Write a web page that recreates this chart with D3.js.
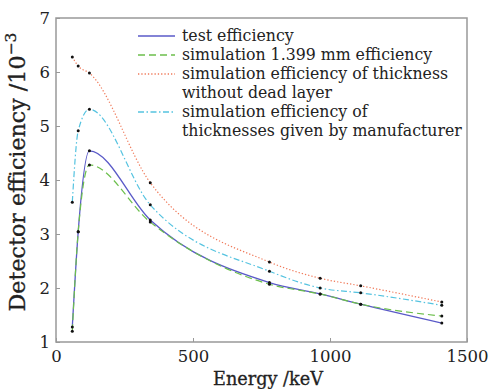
<!DOCTYPE html>
<html><head><meta charset="utf-8">
<script src="https://cdn.jsdelivr.net/npm/d3@7"></script>
<style>body{margin:0;background:#fff}svg{display:block}text{font-family:"DejaVu Serif",serif;fill:#222}</style>
</head><body>
<svg id="c" width="492" height="389"></svg>
<script>
const energies = [59.5, 81, 122, 344, 779, 964, 1112, 1408];
const testEff = [1.28, 3.04, 4.54, 3.26, 2.10, 1.89, 1.70, 1.35];
const sim1399 = [1.20, 3.04, 4.28, 3.22, 2.07, 1.89, 1.70, 1.48];
const simNoDead = [6.28, 6.11, 5.98, 3.95, 2.48, 2.18, 2.04, 1.74];
const simManuf = [3.59, 4.91, 5.31, 3.54, 2.31, 2.00, 1.91, 1.68];
const seriesNames = ["test efficiency", "simulation 1.399 mm efficiency",
  ["simulation efficiency of thickness", "without dead layer"],
  ["simulation efficiency of", "thicknesses given by manufacturer"]];
const xTicks = [0, 500, 1000, 1500];
const yTicks = [1, 2, 3, 4, 5, 6, 7];

const svg = d3.select("#c");
const L = 56, R = 467, T = 18, B = 342;
const x = d3.scaleLinear().domain([0, 1500]).range([L, R]);
const y = d3.scaleLinear().domain([1, 7]).range([B, T]);

const series = [
  {v: testEff, color: "#5a5ac8", dash: null, w: 1.3},
  {v: sim1399, color: "#6cbf4c", dash: "7,4", w: 1.2},
  {v: simNoDead, color: "#f07a5a", dash: "1.3,2", w: 1.2},
  {v: simManuf, color: "#55c3e0", dash: "6,2.5,1.5,2.5", w: 1.2}
];

const line = d3.line().x((d,i)=>x(energies[i])).y(d=>y(d)).curve(d3.curveMonotoneX);
series.forEach(s=>{
  svg.append("path").attr("d", line(s.v)).attr("fill","none")
    .attr("stroke", s.color).attr("stroke-width", s.w)
    .attr("stroke-dasharray", s.dash);
});
series.forEach(s=>{
  svg.append("g").selectAll("circle").data(s.v).join("circle")
    .attr("cx",(d,i)=>x(energies[i])).attr("cy",d=>y(d)).attr("r",1.5).attr("fill","#111");
});

// frame
svg.append("rect").attr("x",L).attr("y",T).attr("width",R-L).attr("height",B-T)
  .attr("fill","none").attr("stroke","#999").attr("stroke-width",1.5);

// axes
const xa = svg.append("g").attr("transform",`translate(0,${B})`)
  .call(d3.axisBottom(x).tickValues(xTicks).tickFormat(d3.format("d")).tickSizeInner(-4).tickSizeOuter(0).tickPadding(8.6));
const ya = svg.append("g").attr("transform",`translate(${L},0)`)
  .call(d3.axisLeft(y).tickValues(yTicks).tickFormat(d3.format("d")).tickSizeInner(-4).tickSizeOuter(0).tickPadding(6));
[xa, ya].forEach(a=>{
  a.select(".domain").remove();
  a.selectAll("line").attr("stroke","#999");
  a.selectAll("text").attr("font-family","DejaVu Serif").attr("font-size",16.5).attr("fill","#222");
});
ya.selectAll("text").attr("dy","0.35em");

function fitText(t, w){
  const cur = t.node().getComputedTextLength();
  const fs = parseFloat(t.attr("font-size"));
  t.attr("font-size", fs*w/cur);
}

// axis titles
const xt = svg.append("text").attr("x",268).attr("y",385).attr("text-anchor","middle")
  .attr("font-size",16).attr("stroke","#222").attr("stroke-width",0.3).text("Energy /keV");
fitText(xt, 110);
const yt = svg.append("text").attr("transform","translate(25,172) rotate(-90)").attr("text-anchor","middle")
  .attr("font-size",16).attr("stroke","#222").attr("stroke-width",0.3);
yt.append("tspan").text("Detector efficiency /10");
yt.append("tspan").attr("dy","-0.55em").attr("font-size","0.7em").text("−3");
fitText(yt, 279);

// legend
const lg = svg.append("g");
let rowIdx = 0;
const lx0 = 138, lx1 = 175, tx = 182, rowH = 19, firstBase = 41;
const lines = [];
seriesNames.forEach((n,i)=>{
  const arr = Array.isArray(n) ? n : [n];
  lines.push({i, texts: arr, start: rowIdx});
  rowIdx += arr.length;
});
const textEls = [];
lines.forEach(l=>{
  const s = series[l.i];
  const ly = firstBase + l.start*rowH - 5;
  lg.append("line").attr("x1",lx0).attr("x2",lx1).attr("y1",ly).attr("y2",ly)
    .attr("stroke",s.color).attr("stroke-width",s.w+0.2).attr("stroke-dasharray",s.dash);
  l.texts.forEach((t,k)=>{
    textEls.push(lg.append("text").attr("x",tx).attr("y",firstBase+(l.start+k)*rowH)
      .attr("font-size",15).text(t));
  });
});
const ref = textEls[textEls.length-1];
const w0 = ref.node().getComputedTextLength();
const fsNew = 15*280/w0;
textEls.forEach(t=>t.attr("font-size",fsNew));
</script>
</body></html>
